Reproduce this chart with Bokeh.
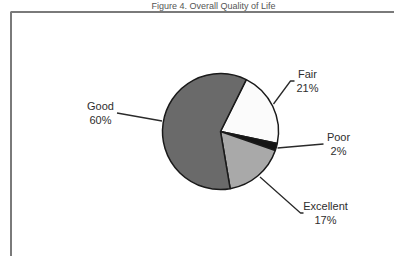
import math
from bokeh.plotting import figure
from bokeh.models import Range1d
from bokeh.core.properties import value
from bokeh.embed import file_html
from bokeh.resources import INLINE

title_text = "Figure 4. Overall Quality of Life"
categories = ["Fair", "Poor", "Excellent", "Good"]
percents = [21, 2, 17, 60]
colors = ["#fbfbfb", "#151515", "#a9a9a9", "#6a6a6a"]

W, H = 394, 256
p = figure(width=W, height=H, output_backend="svg", toolbar_location=None,
           x_range=Range1d(0, W), y_range=Range1d(0, H),
           min_border=0, outline_line_color=None)
p.axis.visible = False
p.grid.visible = False
p.background_fill_color = "white"
p.border_fill_color = "white"

def Y(ypx):
    return H - ypx

FONT = value("Liberation Sans")

# title (small, above the frame)
p.text([213], [Y(5)], text=[title_text], text_font=FONT, text_font_size="9px",
       text_align="center", text_baseline="middle", text_color="#555555")

# frame border
p.line([10.5, 10.5, 400], [Y(300), Y(11.5), Y(11.5)], line_color="#7a7a7a", line_width=2)

# pie
cx, cy, r = 220, Y(131), 58
start = math.radians(63.6)
total = sum(percents)
cum = 0
starts, ends = [], []
for v in percents:
    a0 = start - 2 * math.pi * cum / total
    cum += v
    a1 = start - 2 * math.pi * cum / total
    starts.append(a0)
    ends.append(a1)
p.wedge(x=[cx] * len(percents), y=[cy] * len(percents), radius=r,
        start_angle=starts, end_angle=ends, direction="clock",
        fill_color=colors, line_color="#1a1a1a", line_width=1.5)

# leader lines
leaders = {
    "Fair": ([273, 290, 294], [103.5, 80.5, 80.5]),
    "Poor": ([277, 323], [147.5, 143.5]),
    "Excellent": ([259.5, 300, 303], [176.5, 212.5, 212.5]),
    "Good": ([116.5, 161.5], [112.5, 120.5]),
}
label_pos = {
    "Fair": (307, 73),
    "Poor": (338, 136),
    "Excellent": (325, 205),
    "Good": (100, 105.5),
}
for c, v in zip(categories, percents):
    xs, ys = leaders[c]
    p.line(xs, [Y(y) for y in ys], line_color="#2a2a2a", line_width=1.3)
    lx, ly = label_pos[c]
    p.text([lx, lx], [Y(ly), Y(ly + 14)], text=[c, f"{v}%"], text_font=FONT,
           text_font_size="11px", text_align="center", text_baseline="middle",
           text_color="#2e2e2e")

open("out.html", "w").write(file_html(p, INLINE))
